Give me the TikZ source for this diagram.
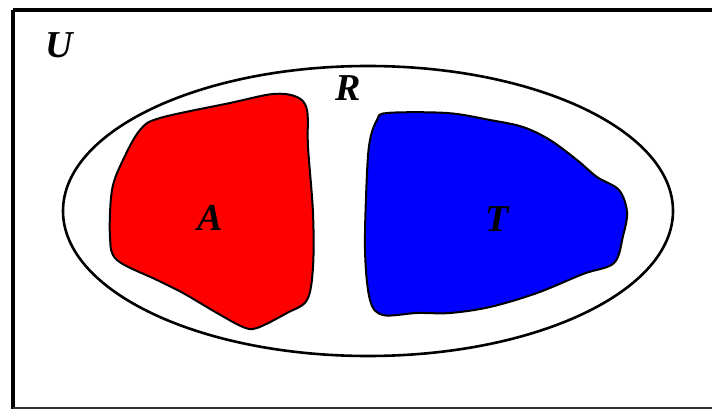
\documentclass[tikz,border=0pt]{standalone}
\usepackage{fontspec}
\setmainfont{Liberation Serif}
\begin{document}
\begin{tikzpicture}[x=1pt,y=-1pt,
  lbl/.style={inner sep=0pt,font=\fontsize{38}{38}\selectfont\bfseries\itshape},
  blob/.style={draw=black,line width=2pt},
]
\useasboundingbox (0,0) rectangle (712,409);
\fill[white] (0,0) rectangle (712,409);
% universe frame (right side lies beyond the picture)
\draw[line width=4pt] (13,10) -- (730,10);
\draw[line width=4pt] (13,10) -- (13,409);
\draw[line width=1.6pt,black!80] (13,408) -- (730,408);
% R ellipse
\draw[line width=2.6pt] (368,211) ellipse [x radius=305, y radius=145];
% A blob
\draw[blob,fill=red] plot[smooth cycle,tension=0.55] coordinates {
 (297,97) (307,110) (308,147) (313,213) (313,267) (307,300) (287,313)
 (257,328) (243,327) (217,313) (183,293) (157,280) (117,260) (110,237)
 (112,190) (123,160) (140,130) (160,118) (230,103) (273,94)};
% T blob
\draw[blob,fill=blue] plot[smooth cycle,tension=0.55] coordinates {
 (387,113) (447,113) (490,120) (523,127) (550,140) (577,160) (597,177)
 (619,190) (627,212) (623,236) (614,263) (583,274) (537,293) (490,307)
 (450,313) (417,313) (383,315) (370,300) (365,250) (367,173) (370,140)
 (377,120)};
\node[lbl] (U) at (59,45) {U};
\node[lbl] (R) at (348,88) {R};
\node[lbl] (A) at (210,218) {A};
\node[lbl] (T) at (497,219) {T};
\end{tikzpicture}
\end{document}
